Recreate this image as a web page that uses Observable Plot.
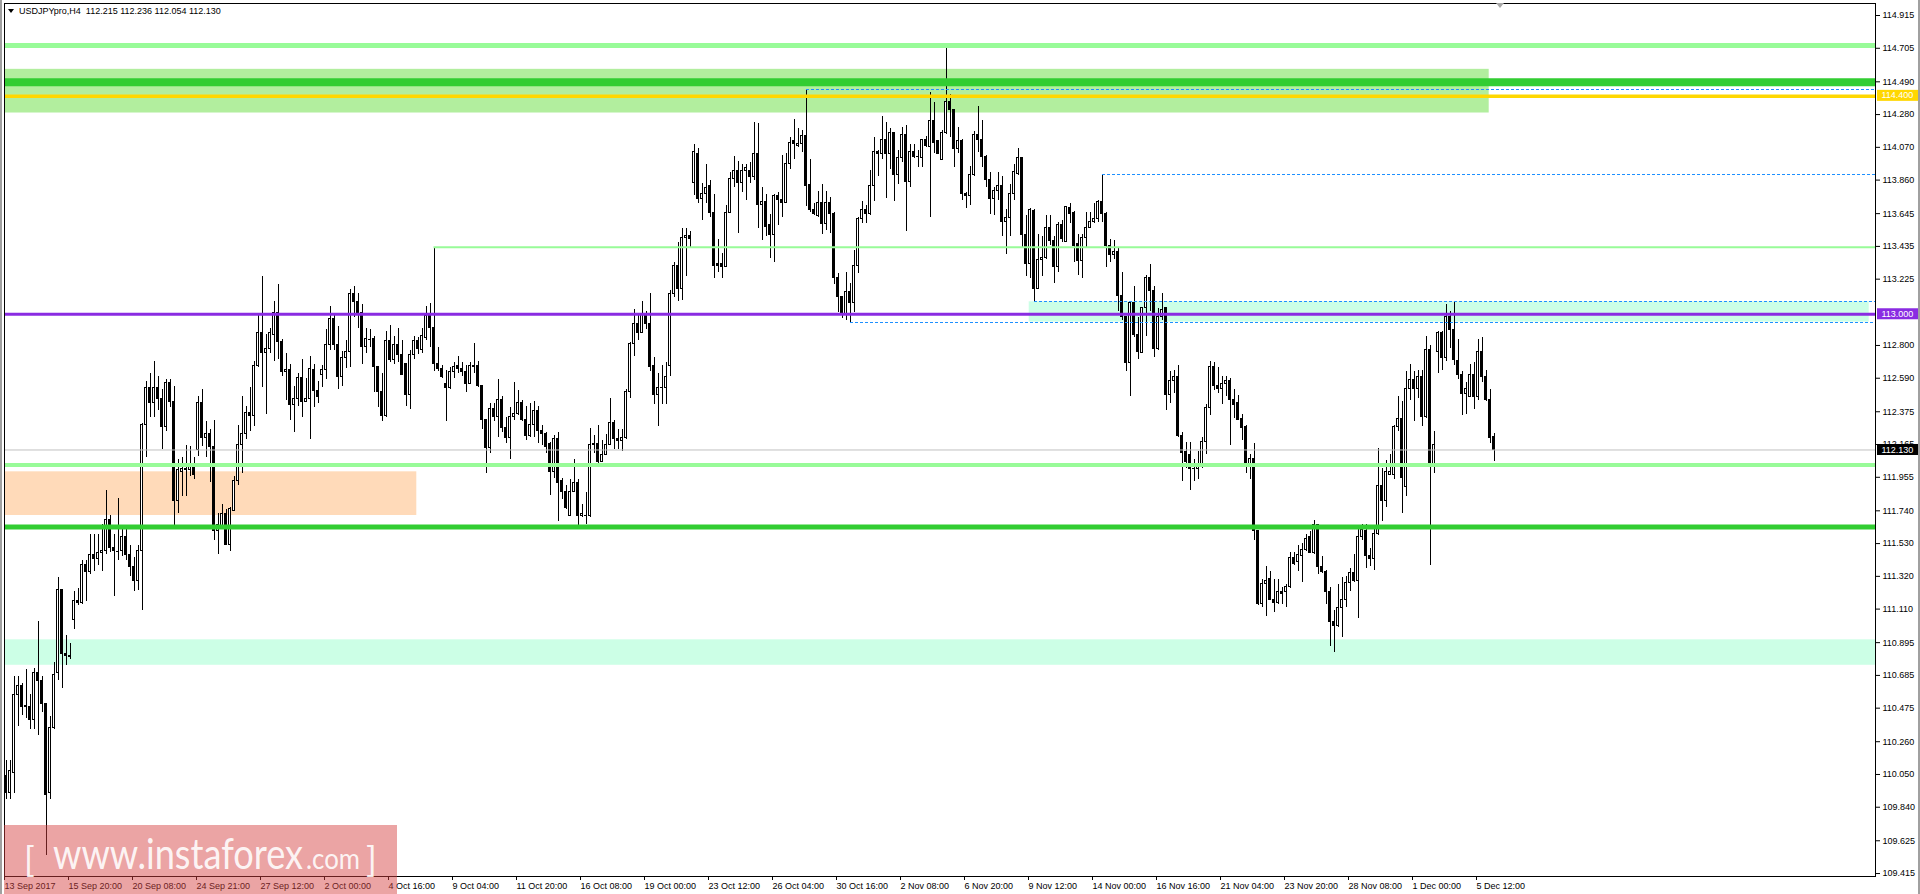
<!DOCTYPE html>
<html>
<head>
<meta charset="utf-8">
<script src="https://cdn.jsdelivr.net/npm/d3@7"></script>
<script src="https://cdn.jsdelivr.net/npm/@observablehq/plot@0.6"></script>
<style>
  html, body { margin:0; padding:0; background:#fff; overflow:hidden; }
  #wrap { position:relative; width:1920px; height:894px; }
  #chart svg { display:block; }
  #title { position:absolute; left:8px; top:6px; font:9px "Liberation Sans", Arial, sans-serif; color:#000; white-space:pre; line-height:10px; }
  #title .tri { display:inline-block; width:0; height:0; border-left:3.5px solid transparent; border-right:3.5px solid transparent; border-top:4px solid #000; margin-right:5px; vertical-align:1px; }
  #edgeL { position:absolute; left:0; top:0; width:2px; height:894px; background:#a0a0a0; }
  #edgeR { position:absolute; right:0; top:0; width:2px; height:894px; background:#a0a0a0; }
  #shift { position:absolute; left:1496px; top:3px; width:0; height:0; border-left:4px solid transparent; border-right:4px solid transparent; border-top:5px solid #a8a8a8; }
  #wm { position:absolute; left:4px; top:825px; width:393px; height:69px; background:rgba(214,64,64,0.48); }
  #wm svg { display:block; }
</style>
</head>
<body>
<div id="wrap">
  <div id="chart"></div>
  <div id="edgeL"></div><div id="edgeR"></div>
  <div id="shift"></div>
  <div id="title"><span class="tri"></span>USDJPYpro,H4  112.215 112.236 112.054 112.130</div>
  <div id="wm">
    <svg width="393" height="69">
      <text fill="rgba(255,255,255,0.9)" font-family="Lato, 'Open Sans', sans-serif" font-weight="400"><tspan x="20" y="47" font-size="35">[</tspan><tspan x="49" y="44" font-size="42" textLength="250" lengthAdjust="spacingAndGlyphs">www.instaforex</tspan><tspan x="302" y="44" font-size="28" textLength="54" lengthAdjust="spacingAndGlyphs">.com</tspan><tspan x="362" y="47" font-size="35">]</tspan></text>
    </svg>
  </div>
</div>
<script>
// ---- data: USDJPY H4 candles [open, high, low, close] ----
const ohlc = [
[110.04,110.14,109.89,109.93],[109.93,110.14,109.89,110.07],[110.06,110.68,109.93,110.56],[110.56,110.68,110.36,110.62],[110.62,110.63,110.43,110.48],
[110.48,110.72,110.41,110.49],[110.48,110.56,110.34,110.40],[110.40,110.73,110.34,110.70],[110.70,111.03,110.30,110.65],[110.65,110.68,110.45,110.50],
[110.50,110.50,109.53,109.92],[109.93,110.42,109.89,110.35],[110.35,110.77,110.34,110.69],[110.70,111.31,110.65,111.23],[111.23,111.23,110.60,110.82],
[110.82,110.94,110.75,110.81],[110.81,110.89,110.79,110.80],[111.04,111.22,110.98,111.16],[111.16,111.24,111.13,111.15],[111.15,111.42,111.14,111.39],
[111.39,111.42,111.16,111.35],[111.35,111.59,111.33,111.46],[111.46,111.59,111.35,111.43],[111.43,111.59,111.39,111.47],[111.47,111.65,111.35,111.48],
[111.48,111.87,111.46,111.68],[111.68,111.71,111.47,111.50],[111.50,111.59,111.19,111.48],[111.48,111.82,111.42,111.48],[111.48,111.64,111.45,111.57],
[111.57,111.62,111.42,111.46],[111.46,111.52,111.32,111.38],[111.38,111.44,111.22,111.29],[111.29,111.52,111.23,111.48],[111.48,112.30,111.10,112.29],
[112.29,112.57,112.08,112.53],[112.53,112.62,112.34,112.43],[112.43,112.70,112.34,112.53],[112.53,112.60,112.38,112.46],[112.46,112.52,112.13,112.28],
[112.28,112.58,112.25,112.56],[112.56,112.58,112.40,112.44],[112.44,112.54,111.64,111.80],[111.80,112.07,111.72,112.00],[111.99,112.08,111.83,112.01],
[112.01,112.16,111.83,112.00],[112.00,112.15,111.96,112.02],[112.03,112.08,111.94,111.97],[112.13,112.47,112.09,112.43],[112.43,112.52,112.15,112.21],
[112.21,112.31,112.08,112.23],[112.23,112.26,111.92,112.15],[112.15,112.32,111.55,111.61],[111.61,111.72,111.46,111.65],[111.64,111.78,111.63,111.72],
[111.72,111.75,111.52,111.52],[111.52,111.76,111.48,111.75],[111.74,111.96,111.74,111.93],[111.93,112.29,111.90,112.16],[112.16,112.47,111.98,112.23],
[112.23,112.41,112.20,112.37],[112.37,112.53,112.25,112.35],[112.35,112.70,112.28,112.67],[112.67,113.00,112.66,112.88],[112.88,113.24,112.53,112.75],
[112.75,112.87,112.36,112.78],[112.78,112.91,112.75,112.88],[112.87,113.08,112.70,113.01],[113.01,113.19,112.71,112.82],[112.82,112.84,112.60,112.63],
[112.63,112.75,112.45,112.64],[112.64,112.68,112.32,112.42],[112.42,112.54,112.24,112.46],[112.46,112.62,112.41,112.59],[112.59,112.71,112.34,112.44],
[112.44,112.59,112.44,112.46],[112.46,112.73,112.20,112.65],[112.64,112.68,112.40,112.51],[112.51,112.57,112.43,112.47],[112.61,112.67,112.53,112.64],
[112.64,112.90,112.58,112.80],[112.80,113.05,112.77,112.97],[112.97,113.00,112.77,112.80],[112.80,112.92,112.52,112.60],[112.60,112.76,112.54,112.72],
[112.72,112.83,112.65,112.76],[112.76,113.16,112.66,113.13],[113.13,113.18,112.98,113.08],[113.08,113.13,112.91,113.01],[113.01,113.06,112.68,112.79],
[112.79,112.91,112.75,112.84],[112.84,112.90,112.79,112.84],[112.84,112.86,112.50,112.66],[112.66,112.66,112.40,112.50],[112.50,112.62,112.31,112.35],
[112.35,112.89,112.34,112.83],[112.83,112.93,112.69,112.71],[112.71,112.86,112.68,112.80],[112.80,112.91,112.69,112.74],[112.74,112.83,112.61,112.61],
[112.68,112.68,112.41,112.48],[112.48,112.77,112.39,112.74],[112.74,112.86,112.71,112.83],[112.83,112.85,112.74,112.78],[112.77,112.91,112.75,112.86],
[112.85,113.05,112.83,112.99],[113.00,113.07,112.79,112.91],[112.91,113.43,112.63,112.68],[112.68,112.79,112.63,112.65],[112.65,112.67,112.59,112.60],
[112.55,112.64,112.31,112.53],[112.53,112.66,112.52,112.63],[112.63,112.69,112.59,112.66],[112.67,112.73,112.62,112.65],[112.65,112.69,112.60,112.63],
[112.63,112.67,112.50,112.55],[112.55,112.69,112.55,112.67],[112.66,112.81,112.62,112.67],[112.67,112.70,112.53,112.54],[112.54,112.54,112.26,112.32],
[112.32,112.32,111.98,112.14],[112.14,112.43,112.11,112.39],[112.39,112.43,112.31,112.34],[112.34,112.58,112.21,112.45],[112.45,112.47,112.24,112.27],
[112.27,112.34,112.17,112.21],[112.21,112.40,112.07,112.34],[112.34,112.56,112.32,112.36],[112.36,112.51,112.35,112.43],[112.43,112.45,112.31,112.32],
[112.32,112.41,112.19,112.22],[112.22,112.43,112.21,112.29],[112.29,112.44,112.21,112.38],[112.38,112.41,112.17,112.25],[112.25,112.29,112.16,112.23],
[112.23,112.24,112.11,112.15],[112.17,112.18,111.84,111.99],[111.99,112.22,111.95,112.20],[112.20,112.24,111.67,111.92],[111.93,111.95,111.81,111.86],
[111.86,111.90,111.75,111.76],[111.71,111.94,111.71,111.86],[111.86,112.07,111.86,111.92],[111.92,111.94,111.64,111.71],[111.71,111.78,111.70,111.72],
[111.71,111.86,111.65,111.71],[111.71,112.27,111.70,112.16],[112.16,112.22,112.11,112.17],[112.17,112.29,112.02,112.05],[112.05,112.19,112.05,112.10],
[112.10,112.23,112.10,112.16],[112.16,112.46,112.16,112.30],[112.30,112.32,112.13,112.20],[112.20,112.26,112.13,112.19],[112.19,112.26,112.12,112.21],
[112.21,112.52,112.20,112.50],[112.50,112.82,112.46,112.81],[112.81,113.03,112.73,112.94],[112.94,113.00,112.83,112.88],[112.88,113.08,112.88,113.00],
[113.00,113.02,112.90,112.94],[112.94,113.13,112.63,112.66],[112.67,112.72,112.42,112.48],[112.48,112.62,112.28,112.53],[112.53,112.67,112.42,112.53],
[112.53,112.69,112.42,112.60],[112.67,113.15,112.60,113.13],[113.13,113.33,113.11,113.31],[113.31,113.46,113.08,113.16],[113.16,113.55,113.09,113.49],
[113.49,113.55,113.24,113.50],[113.50,113.53,113.43,113.48],[113.84,114.09,113.76,114.04],[114.03,114.06,113.71,113.74],[113.74,113.84,113.60,113.77],
[113.77,113.96,113.71,113.81],[113.82,113.86,113.62,113.65],[113.65,113.77,113.23,113.31],[113.32,113.48,113.27,113.31],[113.32,113.39,113.23,113.30],
[113.30,113.70,113.30,113.65],[113.65,113.91,113.65,113.87],[113.87,114.01,113.81,113.92],[113.92,113.98,113.52,113.84],[113.84,113.96,113.78,113.92],
[113.92,113.96,113.73,113.94],[113.92,113.97,113.84,113.88],[113.88,114.23,113.86,114.03],[114.03,114.22,113.55,113.70],[113.70,113.81,113.47,113.72],
[113.72,113.77,113.50,113.56],[113.57,113.64,113.36,113.51],[113.51,113.77,113.33,113.76],[113.76,113.78,113.57,113.73],[113.73,114.02,113.62,113.71],
[113.71,114.03,113.71,113.96],[113.96,114.13,113.93,114.10],[114.11,114.25,113.99,114.09],[114.08,114.19,114.07,114.09],[114.09,114.18,114.04,114.14],
[114.14,114.44,113.69,113.82],[113.83,113.99,113.65,113.67],[113.67,113.71,113.63,113.64],[113.63,113.79,113.62,113.71],[113.71,113.83,113.51,113.58],
[113.58,113.79,113.54,113.71],[113.71,113.75,113.52,113.64],[113.64,113.65,113.19,113.23],[113.23,113.26,113.01,113.11],[113.11,113.11,112.97,113.00],
[113.00,113.27,112.96,113.14],[113.14,113.20,112.95,113.07],[113.07,113.41,113.01,113.31],[113.31,113.62,113.26,113.61],[113.61,113.72,113.58,113.67],
[113.67,113.70,113.58,113.64],[113.64,113.92,113.63,113.82],[113.82,114.13,113.72,114.04],[114.04,114.05,113.88,114.03],[114.03,114.27,113.99,114.12],
[114.12,114.23,113.74,114.03],[114.03,114.19,113.93,114.16],[114.16,114.16,113.72,113.89],[113.89,114.05,113.83,114.00],[114.00,114.20,113.97,114.15],
[114.15,114.21,113.53,113.85],[113.85,114.09,113.81,114.04],[114.04,114.09,114.00,114.01],[114.01,114.05,113.94,114.01],[114.00,114.12,113.94,114.12],
[114.12,114.14,114.07,114.08],[114.07,114.42,113.62,114.24],[114.24,114.36,114.03,114.10],[114.11,114.11,114.03,114.03],[113.99,114.18,113.99,114.16],
[114.16,114.72,114.15,114.36],[114.36,114.41,114.13,114.31],[114.31,114.31,113.94,114.06],[114.06,114.20,114.03,114.11],[114.11,114.12,113.73,113.77],
[113.77,113.78,113.68,113.76],[113.76,113.95,113.70,113.89],[113.89,114.17,113.88,114.15],[114.15,114.33,114.04,114.12],[114.12,114.24,113.94,114.01],
[114.01,114.02,113.81,113.86],[113.86,113.91,113.64,113.74],[113.74,113.81,113.63,113.79],[113.79,113.91,113.73,113.82],[113.82,113.88,113.50,113.59],
[113.59,113.67,113.38,113.62],[113.62,113.83,113.50,113.77],[113.77,113.96,113.73,113.91],[113.90,114.06,113.89,114.00],[114.00,114.00,113.43,113.51],
[113.51,113.63,113.24,113.32],[113.32,113.68,113.23,113.67],[113.66,113.67,113.08,113.16],[113.16,113.51,113.16,113.35],[113.35,113.50,113.24,113.36],
[113.36,113.63,113.35,113.55],[113.55,113.63,113.44,113.47],[113.47,113.50,113.20,113.30],[113.30,113.59,113.27,113.57],[113.57,113.60,113.46,113.48],
[113.46,113.69,113.46,113.69],[113.68,113.71,113.58,113.64],[113.65,113.66,113.33,113.44],[113.45,113.51,113.25,113.34],[113.34,113.51,113.23,113.49],
[113.49,113.65,113.43,113.55],[113.55,113.65,113.55,113.59],[113.59,113.71,113.58,113.61],[113.61,113.73,113.59,113.72],[113.72,113.89,113.59,113.64],
[113.64,113.65,113.30,113.44],[113.44,113.48,113.33,113.38],[113.38,113.47,113.35,113.40],[113.40,113.43,113.02,113.12],[113.12,113.27,112.96,112.98],
[112.98,112.98,112.63,112.69],[112.69,113.08,112.47,113.07],[113.07,113.18,112.85,112.87],[112.87,112.98,112.71,112.76],[112.75,113.04,112.75,113.04],
[113.04,113.25,112.86,113.23],[113.23,113.32,113.02,113.15],[113.15,113.18,112.72,112.78],[112.78,113.04,112.77,112.98],[112.98,113.13,112.96,113.03],
[113.04,113.04,112.38,112.48],[112.48,112.63,112.43,112.57],[112.57,112.64,112.49,112.60],[112.60,112.67,112.21,112.22],[112.22,112.24,111.93,112.11],
[112.12,112.18,112.01,112.05],[112.10,112.18,111.87,112.01],[112.01,112.07,111.93,112.01],[112.01,112.12,111.94,112.02],[112.02,112.21,112.01,112.18],
[112.18,112.42,112.10,112.40],[112.40,112.70,112.35,112.66],[112.66,112.69,112.51,112.54],[112.54,112.66,112.49,112.52],[112.52,112.60,112.42,112.55],
[112.55,112.60,112.47,112.57],[112.57,112.59,112.16,112.45],[112.45,112.52,112.33,112.42],[112.43,112.48,112.32,112.32],[112.33,112.36,112.19,112.27],
[112.28,112.29,111.98,112.03],[112.03,112.10,111.94,112.07],[112.07,112.17,111.55,111.61],[111.61,111.61,111.13,111.14],[111.14,111.30,111.12,111.27],
[111.27,111.38,111.06,111.29],[111.30,111.35,111.17,111.17],[111.17,111.30,111.09,111.15],[111.15,111.30,111.14,111.22],[111.22,111.25,111.14,111.21],
[111.22,111.27,111.12,111.25],[111.25,111.47,111.24,111.44],[111.44,111.47,111.39,111.40],[111.41,111.52,111.35,111.46],[111.45,111.53,111.28,111.49],
[111.49,111.59,111.48,111.56],[111.57,111.61,111.47,111.47],[111.47,111.68,111.46,111.65],[111.65,111.65,111.33,111.38],[111.38,111.45,111.34,111.35],
[111.35,111.36,111.14,111.22],[111.22,111.25,110.87,111.03],[111.03,111.10,110.83,111.00],[111.00,111.27,110.99,111.12],[111.12,111.31,110.93,111.17],
[111.17,111.32,111.12,111.28],[111.28,111.37,111.22,111.34],[111.34,111.46,111.28,111.29],[111.29,111.63,111.05,111.57],[111.57,111.65,111.55,111.62],
[111.61,111.65,111.37,111.45],[111.45,111.50,111.38,111.43],[111.43,111.63,111.36,111.59],[111.59,112.14,111.58,111.90],[111.90,112.01,111.67,111.80],
[111.80,112.06,111.76,111.99],[111.97,112.10,111.97,111.99],[111.97,112.29,111.94,112.28],[112.28,112.47,112.25,112.33],[112.33,112.44,111.72,111.95],
[111.89,112.63,111.83,112.52],[112.52,112.68,112.45,112.58],[112.58,112.63,112.31,112.52],[112.52,112.64,112.46,112.60],[112.60,112.64,112.28,112.34],
[112.34,112.86,112.33,112.77],[112.77,112.80,111.39,112.03],[112.03,112.25,111.98,112.16],[112.76,112.89,112.62,112.88],[112.88,112.89,112.64,112.72],
[112.72,113.06,112.70,112.98],[112.98,113.02,112.78,112.90],[112.90,113.08,112.67,112.71],[112.70,112.84,112.58,112.61],[112.61,112.63,112.35,112.49],
[112.49,112.56,112.36,112.52],[112.47,112.68,112.47,112.61],[112.61,112.69,112.39,112.47],[112.47,112.84,112.45,112.76],[112.76,112.85,112.56,112.60],
[112.60,112.64,112.44,112.45],[112.45,112.52,112.17,112.21],[112.215,112.236,112.054,112.130]
];

// time-axis labels, one every 16 bars
const timeLabels = ["13 Sep 2017","15 Sep 20:00","20 Sep 08:00","24 Sep 21:00","27 Sep 12:00","2 Oct 00:00",
  "4 Oct 16:00","9 Oct 04:00","11 Oct 20:00","16 Oct 08:00","19 Oct 00:00","23 Oct 12:00","26 Oct 04:00",
  "30 Oct 16:00","2 Nov 08:00","6 Nov 20:00","9 Nov 12:00","14 Nov 00:00","16 Nov 16:00","21 Nov 04:00",
  "23 Nov 20:00","28 Nov 08:00","1 Dec 00:00","5 Dec 12:00"];
const labelEvery = 16;

// price-axis tick labels
const priceTicks = [114.915,114.705,114.490,114.280,114.070,113.860,113.645,113.435,113.225,112.800,112.590,
  112.375,112.165,111.955,111.740,111.530,111.320,111.110,110.895,110.685,110.475,110.260,110.050,109.840,109.625,109.415];

// shaded zones (bar index range, price range)
const zones = [
  {from: null, to: 370.8, lo: 114.29, hi: 114.57, color: "#b2ee9e"},
  {from: 255.8, to: 465.8, lo: 112.95, hi: 113.08, color: "#ccffe6"},
  {from: null, to: 102.7, lo: 111.71, hi: 111.99, color: "#ffdab9"},
  {from: null, to: null, lo: 110.75, hi: 110.913, color: "#ccffe6"}
];

// solid horizontal levels
const levels = [
  {price: 114.722, color: "#98fb98", width: 5, from: null},
  {price: 114.487, color: "#32cd32", width: 8, from: null},
  {price: 114.398, color: "#ffd700", width: 3.5, from: null},
  {price: 113.43,  color: "#98fb98", width: 2, from: 107},
  {price: 113.000, color: "#8a2be2", width: 3, from: null},
  {price: 112.130, color: "#c0c0c0", width: 1, from: null},
  {price: 112.033, color: "#98fb98", width: 4, from: null},
  {price: 111.636, color: "#32cd32", width: 5, from: null}
];

// dashed levels (start bar)
const dashed = [
  {price: 114.44, from: 200},
  {price: 113.895, from: 274},
  {price: 113.08, from: 257},
  {price: 112.945, from: 211}
];

// price tags on the axis
const axisTags = [
  {price: 114.400, label: "114.400", bg: "#ffd700", fg: "#ffffff"},
  {price: 113.000, label: "113.000", bg: "#8a2be2", fg: "#ffffff"},
  {price: 112.130, label: "112.130", bg: "#000000", fg: "#ffffff"}
];

// ---- chart ----
const bars = ohlc.map(([o, h, l, c], i) => ({i, o, h, l, c}));
const X0 = -0.375, X1 = 467.375;
const Y0 = 109.396, Y1 = 114.992;

const plot = Plot.plot({
  width: 1920, height: 894,
  marginTop: 3, marginRight: 45, marginBottom: 18, marginLeft: 4,
  style: {fontFamily: "'Liberation Sans', Arial, sans-serif", fontSize: "9px", color: "#000", background: "transparent", overflow: "visible"},
  x: {domain: [X0, X1]},
  y: {domain: [Y0, Y1]},
  color: {type: "identity"},
  marks: [
    Plot.rect(zones, {x1: d => d.from ?? X0, x2: d => d.to ?? X1, y1: "lo", y2: "hi", fill: "color"}),
    Plot.ruleX(bars, {x: "i", y1: "l", y2: "h", stroke: "#000", strokeWidth: 1, shapeRendering: "crispEdges"}),
    Plot.rect(bars, {x1: d => d.i - 0.25, x2: d => d.i + 0.25, y1: "o", y2: "c",
      fill: d => d.c >= d.o ? "#fff" : "#000", stroke: "#000", strokeWidth: 1, shapeRendering: "crispEdges"}),
    Plot.ruleY(bars.filter(d => d.o === d.c), {y: "o", x1: d => d.i - 0.375, x2: d => d.i + 0.375, stroke: "#000", shapeRendering: "crispEdges"}),
    Plot.ruleY(levels, {y: "price", x1: d => d.from ?? X0, x2: X1, stroke: "color", strokeWidth: "width"}),
    Plot.ruleY(dashed, {y: "price", x1: "from", x2: X1, stroke: "#1e90ff", strokeWidth: 1, strokeDasharray: "3,2", shapeRendering: "crispEdges"}),
    Plot.frame({stroke: "#000", shapeRendering: "crispEdges"}),
    Plot.axisY(priceTicks, {anchor: "right", tickSize: 4, tickPadding: 3, tickFormat: d => d.toFixed(3), label: null, stroke: "#000"}),
    Plot.axisX(timeLabels.map((_, k) => k * labelEvery), {anchor: "bottom", tickSize: 4, tickPadding: 2, dx: -1.5,
      tickFormat: d => timeLabels[d / labelEvery], textAnchor: "start", label: null, stroke: "#000"})
  ]
});

document.getElementById("chart").appendChild(plot);

// price tags drawn with the plot's own y scale
const ys = plot.scale("y");
const xr = plot.scale("x").range[1];
const g = d3.select(plot).append("g").attr("text-anchor", "start").attr("font-size", "9px");
for (const t of axisTags) {
  const y = ys.apply(t.price);
  g.append("rect").attr("x", xr + 2).attr("y", y - 5.5).attr("width", 42).attr("height", 11).attr("fill", t.bg);
  g.append("text").attr("x", xr + 6.5).attr("y", y).attr("dy", "0.34em").attr("fill", t.fg).text(t.label);
}
</script>
</body>
</html>
